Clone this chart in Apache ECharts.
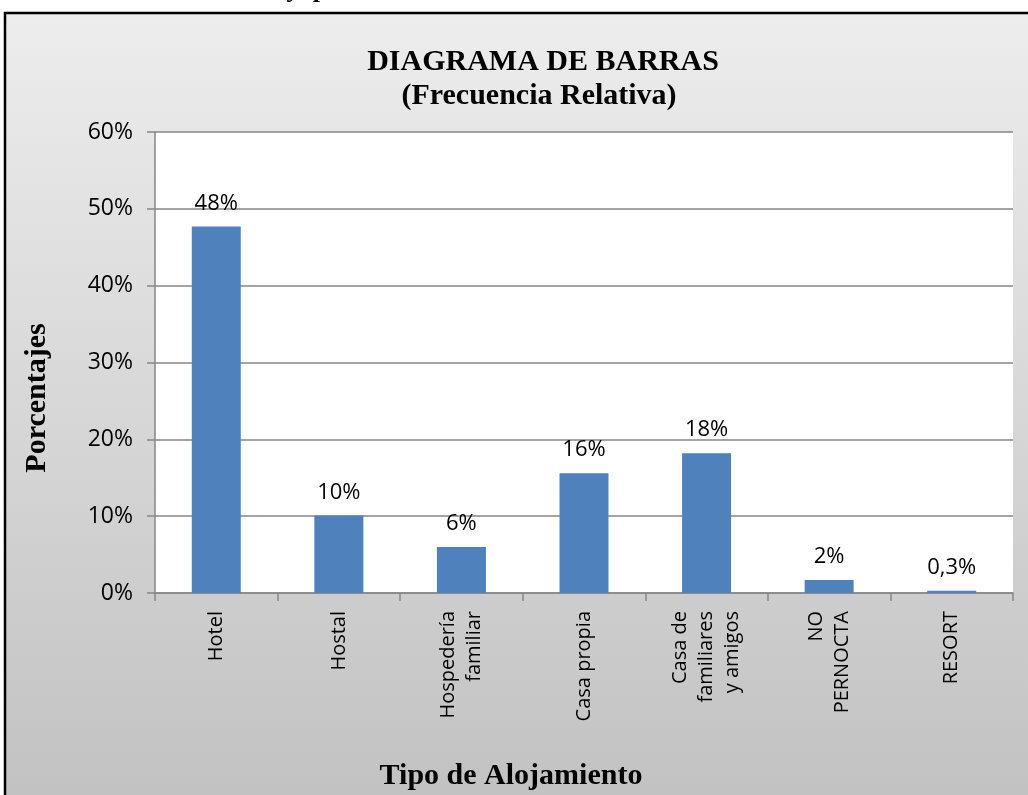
<!DOCTYPE html>
<html>
<head>
<meta charset="utf-8">
<script src="https://cdn.jsdelivr.net/npm/echarts@6/dist/echarts.min.js"></script>
<style>
  html, body { margin: 0; padding: 0; background: #fff; }
  #main { width: 1028px; height: 795px; }
</style>
</head>
<body>
<div id="main"></div>
<script>
// datos del grafico
var categorias = ['Hotel', 'Hostal', 'Hospedería\nfamiliar', 'Casa propia', 'Casa de\nfamiliares\ny amigos', 'NO\nPERNOCTA', 'RESORT'];
var valores = [47.7, 10.1, 6.0, 15.6, 18.2, 1.7, 0.3];
var etiquetas = ['48%', '10%', '6%', '16%', '18%', '2%', '0,3%'];
var ticksY = [0, 10, 20, 30, 40, 50, 60];

var myChart = echarts.init(document.getElementById('main'));

var serif = '"Liberation Serif", "Times New Roman", serif';
var sans = '"Open Sans", sans-serif';
var gris = '#868686';

option = {
    animation: false,
    backgroundColor: '#ffffff',
    graphic: [
        {
            type: 'rect',
            z: -10,
            shape: { x: 5, y: 13, width: 1040, height: 800 },
            style: {
                fill: new echarts.graphic.LinearGradient(0, 0, 0, 1, [
                    { offset: 0, color: '#ededed' },
                    { offset: 1, color: '#c1c1c1' }
                ]),
                stroke: '#000',
                lineWidth: 2.5
            }
        },
        // restos del titulo recortado arriba
        { type: 'text', x: 293, y: -23, style: { text: 'y', font: 'bold 26px ' + serif, fill: '#000', align: 'center' } },
        { type: 'text', x: 320, y: -23, style: { text: 'p', font: 'bold 26px ' + serif, fill: '#000', align: 'center' } },
        {
            type: 'text', x: 543, y: 62,
            style: { text: 'DIAGRAMA DE BARRAS', font: 'bold 30px ' + serif, fill: '#000', align: 'center', verticalAlign: 'middle' }
        },
        {
            type: 'text', x: 539, y: 96,
            style: { text: '(Frecuencia Relativa)', font: 'bold 30px ' + serif, fill: '#000', align: 'center', verticalAlign: 'middle' }
        },
        {
            type: 'text', x: 37, y: 398, rotation: Math.PI / 2,
            style: { text: 'Porcentajes', font: 'bold 30px ' + serif, fill: '#000', align: 'center', verticalAlign: 'middle' }
        },
        {
            type: 'text', x: 511, y: 776,
            style: { text: 'Tipo de Alojamiento', font: 'bold 30px ' + serif, fill: '#000', align: 'center', verticalAlign: 'middle' }
        }
    ],
    grid: {
        left: 155,
        right: 15,
        top: 132,
        bottom: 202,
        show: true,
        backgroundColor: '#ffffff',
        borderWidth: 0
    },
    xAxis: {
        type: 'category',
        data: categorias,
        axisLine: { lineStyle: { color: gris, width: 1.5 } },
        axisTick: { show: true, length: 8, lineStyle: { color: gris, width: 1.5 } },
        axisLabel: {
            rotate: 90,
            margin: 18,
            interval: 0,
            fontFamily: sans,
            fontSize: 20,
            lineHeight: 26,
            color: '#000'
        }
    },
    yAxis: {
        type: 'value',
        min: ticksY[0],
        max: ticksY[ticksY.length - 1],
        interval: 10,
        axisLine: { show: true, lineStyle: { color: gris, width: 1.5 } },
        axisTick: { show: true, length: 8, lineStyle: { color: gris, width: 1.5 } },
        splitLine: { lineStyle: { color: gris, width: 1.5 } },
        axisLabel: {
            margin: 22,
            fontFamily: sans,
            fontSize: 23,
            color: '#000',
            formatter: function (v) { return v + '%'; }
        }
    },
    series: [
        {
            type: 'bar',
            data: valores,
            barWidth: 49,
            itemStyle: { color: '#4f81bd' },
            label: {
                show: true,
                position: 'top',
                distance: 12,
                fontFamily: sans,
                fontSize: 22,
                color: '#000',
                formatter: function (p) { return etiquetas[p.dataIndex]; }
            }
        }
    ]
};

myChart.setOption(option);
</script>
</body>
</html>
